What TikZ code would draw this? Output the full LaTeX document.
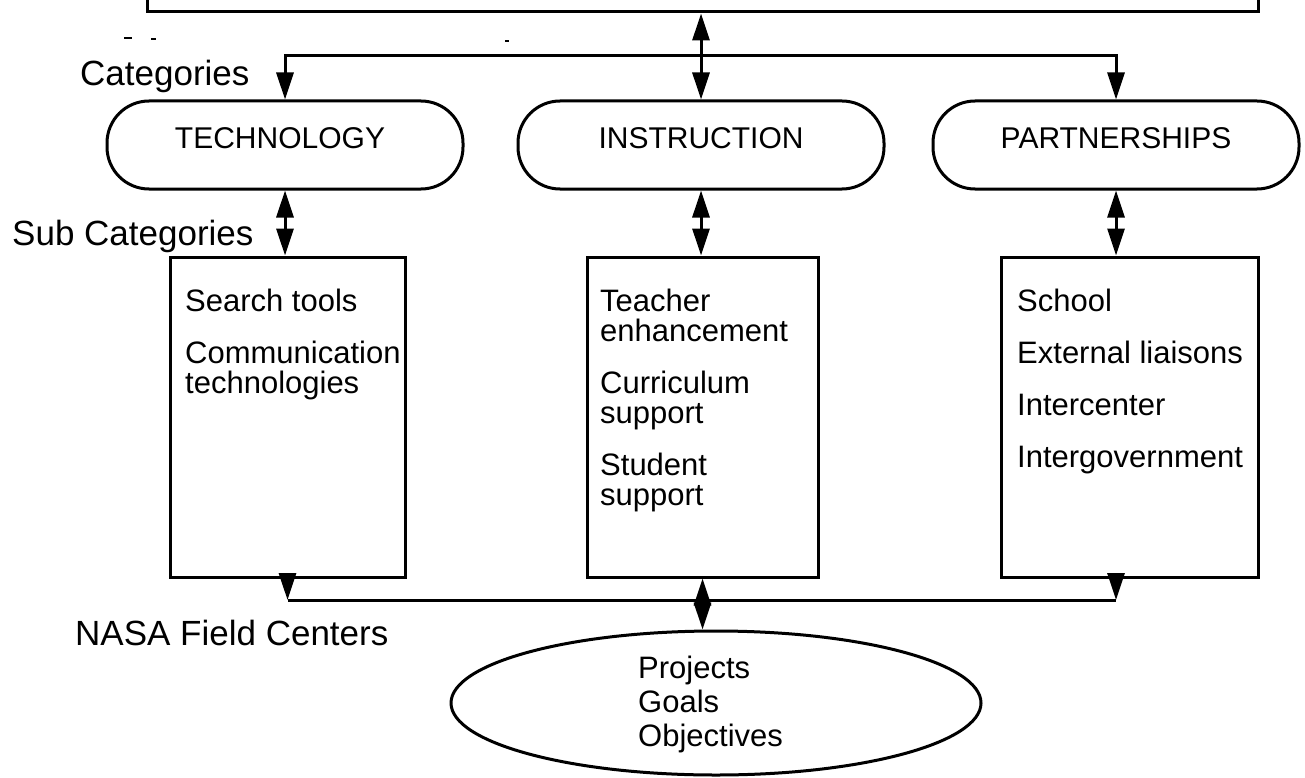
\documentclass[tikz,border=0pt]{standalone}
\usepackage{fontspec}
\setmainfont{Liberation Sans}
\usetikzlibrary{arrows.meta,shapes.geometric}
\tikzset{
  tri/.tip={Triangle[length=27pt,width=17pt]},
  ln/.style={line width=3pt},
  cat/.style={draw,line width=3pt,rounded corners=42pt,inner sep=0pt},
  sub/.style={draw,line width=3pt,inner sep=0pt,minimum height=320pt},
  big/.style={font=\fontsize{35}{38}\selectfont,inner sep=0pt,anchor=base west},
  cattext/.style={font=\fontsize{30}{33}\selectfont,inner sep=0pt,anchor=base},
  item/.style={font=\fontsize{31}{34}\selectfont,inner sep=0pt,anchor=base west},
}
\begin{document}
\begin{tikzpicture}[x=1pt,y=-1pt]
\useasboundingbox (0,0) rectangle (1305,778);
\fill[white] (0,0) rectangle (1305,778);
% top box (cut off)
\node[draw,line width=3pt,inner sep=0pt,minimum width=1111pt,minimum height=60pt] (top) at (702.5,-18) {};
% category boxes
\node[cat,minimum width=356pt,minimum height=88pt] (tech) at (285,145) {};
\node[cat,minimum width=366pt,minimum height=88pt] (instr) at (701,145) {};
\node[cat,minimum width=366pt,minimum height=88pt] (part) at (1116,145) {};
\node[cattext] (techt) at (280,149) {TECHNOLOGY};
\node[cattext] (instrt) at (701,149) {INSTRUCTION};
\node[cattext] (partt) at (1116,149) {PARTNERSHIPS};
% sub category boxes
\node[sub,minimum width=235pt] (techr) at (287.5,417) {};
\node[sub,minimum width=231pt] (instrr) at (702.5,417) {};
\node[sub,minimum width=257pt] (partr) at (1129.5,417) {};
% ellipse
\node[draw,line width=3pt,ellipse,inner sep=0pt,minimum width=530pt,minimum height=144pt] (ell) at (716,703) {};
% labels
\node[big] (lcat) at (80,86) {Categories};
\node[big] (lsub) at (12,245) {Sub Categories};
\node[big] (lnasa) at (75,645) {NASA Field Centers};
% items
\node[item] (t1) at (185,311) {Search tools};
\node[item] (t2) at (185,363) {Communication};
\node[item] (t3) at (185,393) {technologies};
\node[item] (i1) at (600,311) {Teacher};
\node[item] (i2) at (600,341) {enhancement};
\node[item] (i3) at (600,393) {Curriculum};
\node[item] (i4) at (600,423) {support};
\node[item] (i5) at (600,475) {Student};
\node[item] (i6) at (600,505) {support};
\node[item] (p1) at (1017,311) {School};
\node[item] (p2) at (1017,363) {External liaisons};
\node[item] (p3) at (1017,415) {Intercenter};
\node[item] (p4) at (1017,467) {Intergovernment};
\node[item] (e1) at (638,678) {Projects};
\node[item] (e2) at (638,712) {Goals};
\node[item] (e3) at (638,746) {Objectives};
% connectors top
\coordinate (hl) at (0,56);
\coordinate (bl) at (0,600);
\draw[ln,{tri}-{tri}] (top.south -| instr.north) -- (instr.north);
\draw[ln,{tri}-{tri}] (tech.north) -- (tech.north |- hl) -- (part.north |- hl) -- (part.north);
% connectors middle
\draw[ln,{tri}-{tri}] (tech.south) -- (tech.south |- techr.north);
\draw[ln,{tri}-{tri}] (instr.south) -- (instr.south |- instrr.north);
\draw[ln,{tri}-{tri}] (part.south) -- (part.south |- partr.north);
% connectors bottom
\draw[ln,-{tri}] (techr.south) -- (techr.south |- bl);
\draw[ln,-{tri}] (part.south |- partr.south) -- (part.south |- bl);
\draw[ln] (techr.south |- bl) -- (part.south |- bl);
\draw[ln,{tri}-{tri}] (instrr.south) -- (instrr.south |- ell.north);
% stray marks
\draw[line width=2pt] (124,38) -- (132,38);
\draw[line width=2pt] (151,39) -- (156,39);
\draw[line width=2pt] (505,41) -- (509,41);
\end{tikzpicture}
\end{document}
